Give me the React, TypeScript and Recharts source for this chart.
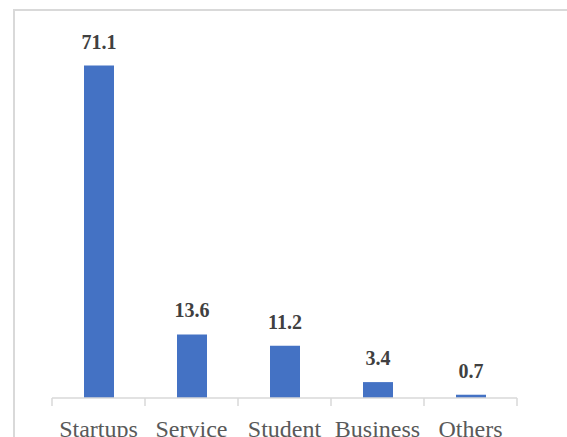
import { BarChart, Bar, XAxis, YAxis, LabelList } from 'recharts'

const categories = ['Startups', 'Service', 'Student', 'Business', 'Others']
const shares = [71.1, 13.6, 11.2, 3.4, 0.7]

const data = categories.map((name, i) => ({ name, value: shares[i] }))

const GRID = '#d9d9d9'
const SERIF = '"Liberation Serif", "DejaVu Serif", serif'

// category axis label plus tick marks at the category boundaries (Excel style)
function CategoryTick(props: any) {
  const { x, y, payload, index, visibleTicksCount } = props
  const half = payload?.offset || 46.5
  return (
    <g>
      <line x1={x - half} y1={y} x2={x - half} y2={y + 8} stroke={GRID} strokeWidth={1.5} />
      {index === visibleTicksCount - 1 && (
        <line x1={x + half} y1={y} x2={x + half} y2={y + 8} stroke={GRID} strokeWidth={1.5} />
      )}
      <text x={x} y={y + 39} textAnchor="middle" fill="#595959" fontSize={24} fontFamily={SERIF}>
        {payload.value}
      </text>
    </g>
  )
}

export default function App() {
  return (
    <div
      style={{
        position: 'absolute',
        left: 0,
        top: 0,
        width: 567,
        height: 437,
        overflow: 'hidden',
        background: '#fff',
      }}
    >
      {/* chart frame, runs past the right and bottom edges */}
      <div
        style={{
          position: 'absolute',
          left: 13,
          top: 9,
          width: 700,
          height: 600,
          border: `2px solid ${GRID}`,
          boxSizing: 'border-box',
        }}
      />
      <div style={{ position: 'absolute', left: 0, top: 0 }}>
        <BarChart
          width={567}
          height={437}
          data={data}
          margin={{ top: 24, right: 50, bottom: 0, left: 52 }}
          barSize={30}
        >
          <XAxis
            dataKey="name"
            height={39}
            interval={0}
            tickLine={false}
            tickSize={0}
            tickMargin={0}
            axisLine={{ stroke: GRID, strokeWidth: 1.5 }}
            tick={<CategoryTick />}
          />
          <YAxis hide domain={[0, 80]} />
          <Bar dataKey="value" fill="#4472C4" isAnimationActive={false}>
            <LabelList
              dataKey="value"
              position="top"
              offset={17}
              fill="#404040"
              fontSize={20}
              fontWeight="bold"
              fontFamily={SERIF}
            />
          </Bar>
        </BarChart>
      </div>
    </div>
  )
}
